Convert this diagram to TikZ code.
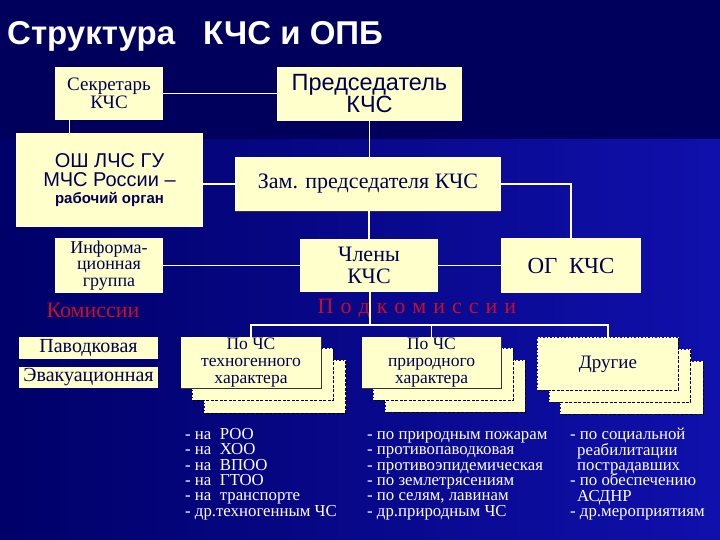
\documentclass[tikz,border=0pt]{standalone}
\usepackage{fontspec}
\setmainfont{Liberation Serif}
\newfontfamily\arial{Liberation Sans}
\definecolor{cream}{RGB}{255,255,204}
\definecolor{ink}{RGB}{0,0,80}
\definecolor{redt}{RGB}{200,14,36}
\definecolor{bgtop}{RGB}{0,0,92}
\definecolor{bgl}{RGB}{0,0,105}
\definecolor{bgr}{RGB}{16,16,172}
\newcommand{\dashedges}[1]{%
  \draw[wdash] (#1.south west) -- (#1.north west) -- (#1.north east);
  \draw[kdash] (#1.north east) -- (#1.south east) -- (#1.south west);}
\newcommand{\shadowedges}[1]{%
  \draw[kline] (#1.north east) -- (#1.south east) -- (#1.south west);}
\newcommand{\lsp}{\hspace{7pt}}
\newcommand{\firstln}{\rule{0pt}{11pt}}
\begin{document}
\lineskiplimit=-20pt
\begin{tikzpicture}[x=1pt,y=-1pt,
  box/.style={fill=cream, inner sep=0pt, align=center, text=ink},
  conn/.style={draw=white, line width=1.1pt},
  wdash/.style={draw=white, line width=0.8pt, dash pattern=on 2pt off 1.5pt},
  kdash/.style={draw=black, line width=0.8pt, dash pattern=on 3pt off 1.5pt},
  kline/.style={draw=black!80, line width=0.9pt},
  lst/.style={anchor=north west, inner sep=0pt, align=left, text=white,
    font=\fontsize{16.8}{15.4}\selectfont},
  lbl/.style={text=redt, inner sep=0pt, font=\fontsize{22}{24}\selectfont}
]
\useasboundingbox (0,0) rectangle (720,540);
\fill[bgtop] (0,0) rectangle (720,540);
\shade[left color=bgl, right color=bgr] (0,140) rectangle (720,540);

% title
\node[anchor=base west, inner sep=0pt, text=white,
  font=\arial\bfseries\fontsize{33}{36}\selectfont] (title) at (7,45)
  {Структура\hspace{28pt}КЧС и ОПБ};

% upper boxes
\node[box, minimum width=108pt, minimum height=53pt,
  font=\fontsize{19}{18}\selectfont] (sec) at (109,93.5) {Секретарь\\КЧС};
\node[box, minimum width=185pt, minimum height=54pt,
  font=\arial\fontsize{23.5}{22}\selectfont] (pred) at (369.5,94) {Председатель\\КЧС};
\node[box, minimum width=187pt, minimum height=94pt,
  font=\arial\fontsize{20}{19}\selectfont] (osh) at (109.5,180)
  {ОШ ЛЧС ГУ\\МЧС России –\\[-2pt]{\bfseries\fontsize{15}{17}\selectfont рабочий орган}};
\node[box, minimum width=266pt, minimum height=54pt,
  font=\fontsize{22}{24}\selectfont] (zam) at (368,184) {Зам. председателя КЧС};
\node[box, minimum width=108pt, minimum height=55pt,
  font=\fontsize{18}{16.5}\selectfont] (info) at (109,265.5) {Информа-\\ционная\\группа};
\node[box, minimum width=138pt, minimum height=53pt,
  font=\fontsize{22}{22}\selectfont] (chl) at (369,265.5) {Члены\\КЧС};
\node[box, minimum width=140pt, minimum height=55pt,
  font=\fontsize{23}{24}\selectfont] (og) at (571,265.5) {ОГ\ \ КЧС};
\draw[kline] (zam.south west) -- (zam.south east);

% labels
\node[lbl] (kom) at (93,310) {Комиссии};
\node[lbl] (podkom) at (417,308) {П\lsp о\lsp д\lsp к\lsp о\lsp м\lsp и\lsp с\lsp с\lsp и\lsp и};

% commissions
\node[box, minimum width=139pt, minimum height=22pt,
  font=\fontsize{20}{20}\selectfont] (pav) at (88.5,348) {Паводковая};
\node[box, minimum width=139pt, minimum height=21pt,
  font=\fontsize{20}{20}\selectfont] (evak) at (88.5,377.5) {Эвакуационная};

% subcommissions: stacked cards
\node[box, minimum width=141pt, minimum height=52pt] (t3) at (275,387) {};
\dashedges{t3}
\node[box, minimum width=140pt, minimum height=51pt] (t2) at (263,374.5) {};
\dashedges{t2}
\node[box, minimum width=140pt, minimum height=51pt,
  font=\fontsize{17.5}{17}\selectfont] (tech) at (251,362.5) {По ЧС\\техногенного\\характера};
\shadowedges{tech}

\node[box, minimum width=139pt, minimum height=51pt] (p3) at (455.5,386.5) {};
\dashedges{p3}
\node[box, minimum width=139pt, minimum height=51pt] (p2) at (443.5,374.5) {};
\dashedges{p2}
\node[box, minimum width=139pt, minimum height=51pt,
  font=\fontsize{17.5}{17}\selectfont] (prir) at (431.5,362.5) {По ЧС\\природного\\характера};
\shadowedges{prir}

\node[box, minimum width=142pt, minimum height=52pt] (d3) at (632,388) {};
\dashedges{d3}
\node[box, minimum width=141pt, minimum height=52pt] (d2) at (620,376) {};
\dashedges{d2}
\node[box, minimum width=140pt, minimum height=52pt,
  font=\fontsize{19}{19}\selectfont] (drug) at (608,364) {Другие};
\dashedges{drug}

% connectors
\draw[conn] (sec.east) -- (sec.east -| pred.west);
\draw[conn] ([xshift=15pt]sec.south west) -- ([xshift=15pt]sec.south west |- osh.north);
\draw[conn] (pred.south) -- (pred.south |- zam.north);
\draw[conn] (zam.west) -- (zam.west -| osh.east);
\draw[conn] (zam.east) -| (og.north);
\draw[conn] (chl.north) -- (chl.north |- zam.south);
\draw[conn] (info.east) -- (info.east -| chl.west);
\draw[conn] (chl.east) -- (chl.east -| og.west);
\coordinate (bus) at (370,325);
\draw[conn] ([xshift=1pt]chl.south) -- (bus);
\draw[conn] (tech.north) |- (bus);
\draw[conn] (drug.north) |- (bus);
\draw[conn] (prir.north) -- (prir.north |- bus);

% lists
\node[lst] (l1) at (185,428) {\firstln- на\ \ РОО\\- на\ \ ХОО\\- на\ \ ВПОО\\- на\ \ ГТОО\\- на\ \ транспорте\\- др.техногенным ЧС};
\node[lst] (l2) at (367,428) {\firstln- по природным пожарам\\- противопаводковая\\- противоэпидемическая\\- по землетрясениям\\- по селям, лавинам\\- др.природным ЧС};
\node[lst] (l3) at (570,428) {\firstln- по социальной\\\hspace*{7pt}реабилитации\\\hspace*{7pt}пострадавших\\- по обеспечению\\\hspace*{7pt}АСДНР\\- др.мероприятиям};
\end{tikzpicture}
\end{document}
